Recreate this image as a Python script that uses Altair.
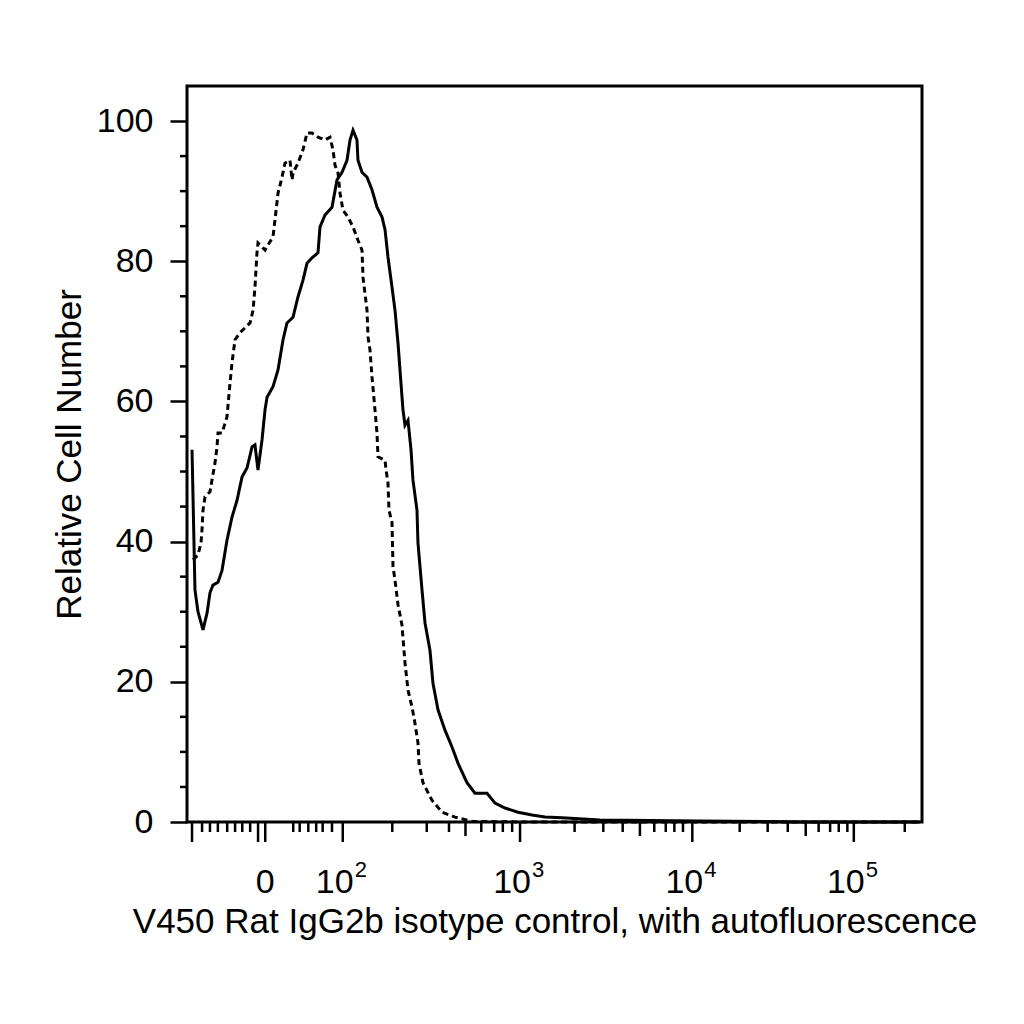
import altair as alt
import pandas as pd

# ---- data (x in display channels 0..1024 of the biexponential axis, y = relative cell number) ----
solid_x = [7.0, 11.1, 15.3, 22.3, 27.9, 32.0, 36.2, 43.2, 48.8, 55.7, 62.7, 69.7, 76.6, 83.6, 90.6, 94.7,
           98.9, 104.5, 108.7, 111.5, 119.8, 126.8, 133.8, 139.3, 147.7, 154.6, 161.6, 167.2, 174.2, 182.5,
           185.3, 192.3, 202.0, 209.0, 216.0, 222.9, 227.1, 231.3, 236.8, 238.2, 243.8, 250.8, 257.7, 264.7,
           271.7, 275.9, 280.0, 285.6, 289.8, 294.0, 298.1, 300.9, 303.7, 307.9, 312.1, 314.8, 320.4, 321.8,
           327.4, 331.6, 338.5, 342.7, 349.7, 359.4, 369.2, 377.5, 390.1, 401.2, 418.0, 429.1, 443.0, 461.2,
           480.7, 498.8, 522.5, 575.4, 714.7, 854.0, 1021.0]
solid_y = [53.1, 33.1, 30.0, 27.4, 29.8, 32.7, 33.8, 34.2, 35.9, 40.2, 43.5, 45.9, 49.2, 50.5, 53.5, 53.8,
           50.2, 54.5, 58.8, 60.6, 62.1, 64.5, 68.8, 71.2, 72.0, 74.9, 77.3, 79.7, 80.5, 81.2,
           84.9, 86.6, 87.7, 91.6, 92.7, 94.4, 97.3, 98.7, 97.3, 94.4, 92.7, 92.0, 90.2, 87.7,
           86.3, 84.5, 80.6, 76.3, 73.0, 68.3, 62.6, 58.8, 56.6, 57.3, 53.1, 48.8, 44.5, 39.8,
           33.1, 28.4, 24.5, 19.8, 16.0, 13.1, 10.7, 8.4, 5.6, 4.1, 4.1, 2.7, 2.0, 1.4,
           1.0, 0.7, 0.6, 0.3, 0.15, 0.0, 0.0]

dashed_x = [8.4, 15.3, 19.5, 20.9, 22.3, 25.1, 32.0, 34.8, 39.0, 41.8, 43.2, 48.8, 55.7, 59.9, 62.7, 66.9,
            73.8, 87.8, 92.0, 94.7, 97.5, 98.9, 108.7, 119.8, 122.6, 126.8, 132.4, 136.5, 143.5, 146.3,
            147.7, 154.6, 161.6, 167.2, 174.2, 182.5, 192.3, 199.2, 203.4, 206.2, 210.4, 213.2, 217.3,
            224.3, 231.3, 238.2, 243.8, 245.2, 250.8, 252.2, 255.0, 257.7, 261.9, 264.7, 266.1, 275.9,
            277.3, 280.0, 281.4, 285.6, 287.0, 289.8, 294.0, 299.5, 303.7, 307.9, 313.5, 317.6, 321.8,
            323.2, 328.8, 341.3, 355.3, 373.4, 397.1, 463.9, 1021.0]
dashed_y = [37.4, 38.1, 39.8, 41.7, 44.5, 46.4, 47.1, 48.8, 51.2, 53.5, 55.5, 55.5, 57.8, 62.6, 65.5, 68.8,
            69.8, 71.2, 73.0, 76.3, 81.2, 82.6, 81.6, 83.5, 85.9, 89.7, 92.0, 94.0, 94.4, 91.6,
            92.6, 94.0, 95.9, 98.3, 98.3, 97.7, 97.3, 97.7, 95.9, 93.7, 92.6, 89.7, 87.3,
            86.3, 84.9, 83.0, 81.6, 77.7, 73.0, 69.2, 67.3, 63.5, 58.8, 55.5, 52.1, 51.6,
            50.2, 48.4, 44.5, 42.7, 36.4, 34.5, 31.0, 28.1, 22.7, 18.8, 16.4, 14.1, 11.3,
            8.4, 5.6, 3.1, 1.4, 0.7, 0.1, 0.0, 0.0]

# axis ticks (channel positions) and labels
x_label_pos = [109, 217, 464, 704, 929]
x_label_base = ["0", "10", "10", "10", "10"]
x_label_exp = ["", "2", "3", "4", "5"]
x_major_ticks = [7, 99, 109, 217, 464, 704, 929]
x_medium_ticks = [388, 631, 862]
x_minor_ticks = [21, 32, 43, 56, 67, 77, 88, 148, 157, 169, 180, 189, 202,
                 286, 334, 365, 410, 428, 440, 453,
                 540, 580, 607, 651, 667, 679, 691,
                 770, 809, 837, 880, 896, 908, 920, 1000]
y_major_ticks = [0, 20, 40, 60, 80, 100]
y_minor_ticks = [5, 10, 15, 25, 30, 35, 45, 50, 55, 65, 70, 75, 85, 90, 95]

x_title = "V450 Rat IgG2b isotype control, with autofluorescence"
y_title = "Relative Cell Number"

FONT = "Liberation Sans"
FS = 34
TFS = 35
W, H = 735, 736

solid = pd.DataFrame({"x": solid_x, "y": solid_y})
dashed = pd.DataFrame({"x": dashed_x, "y": dashed_y})
labels = pd.DataFrame({"x": x_label_pos, "base": x_label_base, "exp": x_label_exp})
labels["shift"] = [0 if e == "" else -8 for e in x_label_exp]

xscale = alt.Scale(domain=[0, 1024], nice=False, zero=False)
yscale = alt.Scale(domain=[0, 105], nice=False, zero=True)

xaxis = alt.Axis(labels=False, ticks=False, domain=False, grid=False,
                 title=x_title, titleFont=FONT, titleFontSize=TFS, titleFontWeight="normal",
                 titleColor="black", titlePadding=82)
yaxis = alt.Axis(values=y_major_ticks, tickSize=17, tickWidth=2.5, tickColor="black", domain=False,
                 grid=False, labelFont=FONT, labelFontSize=FS, labelColor="black", labelPadding=17,
                 title=y_title, titleFont=FONT, titleFontSize=TFS, titleFontWeight="normal",
                 titleColor="black", titlePadding=9)

solid_line = alt.Chart(solid).mark_line(color="black", strokeWidth=3).encode(
    x=alt.X("x:Q", scale=xscale, axis=xaxis),
    y=alt.Y("y:Q", scale=yscale, axis=yaxis),
)
dashed_line = alt.Chart(dashed).mark_line(color="black", strokeWidth=3, strokeDash=[6, 4]).encode(
    x=alt.X("x:Q", scale=xscale),
    y=alt.Y("y:Q", scale=yscale),
)


def xticks(vals, length):
    return alt.Chart(pd.DataFrame({"t": vals})).mark_rule(color="black", strokeWidth=2.5).encode(
        x=alt.X("t:Q", scale=xscale),
        y=alt.value(H),
        y2=alt.value(H + length),
    )


ymin = alt.Chart(pd.DataFrame({"t": y_minor_ticks})).mark_rule(color="black", strokeWidth=2.5).encode(
    y=alt.Y("t:Q", scale=yscale),
    x=alt.value(0),
    x2=alt.value(-7),
)

base_text = alt.Chart(labels).transform_calculate(
    px="scale('x', datum.x) + datum.shift"
).mark_text(font=FONT, fontSize=FS, color="black", align="center", baseline="alphabetic").encode(
    x=alt.X("px:Q", scale=None),
    y=alt.value(H + 71),
    text="base:N",
)
exp_text = alt.Chart(labels).mark_text(font=FONT, fontSize=22, color="black", align="left",
                                       baseline="alphabetic", dx=12).encode(
    x=alt.X("x:Q", scale=xscale),
    y=alt.value(H + 55),
    text="exp:N",
)

chart = alt.layer(
    solid_line, dashed_line,
    xticks(x_major_ticks, 20), xticks(x_medium_ticks, 14), xticks(x_minor_ticks, 10),
    ymin, base_text, exp_text,
).properties(
    width=W, height=H,
    autosize=alt.AutoSizeParams(type="none"),
    padding={"left": 179, "top": 78, "right": 90, "bottom": 150},
).configure(
    font=FONT, background="white"
).configure_view(
    stroke="black", strokeWidth=3
)

chart.save("out.html", embed_options={"renderer": "svg", "actions": False})
